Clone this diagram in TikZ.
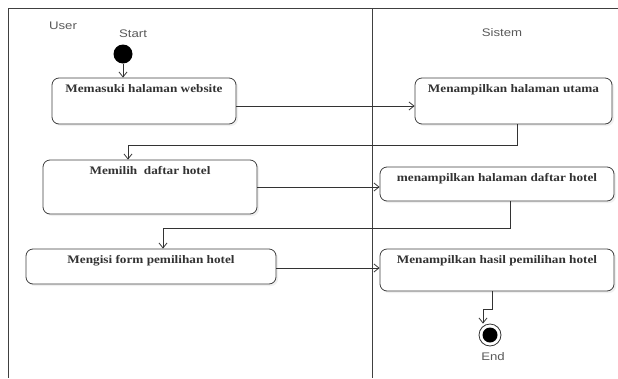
\documentclass[tikz,border=0pt]{standalone}
\usepackage{fontspec}
\setmainfont{Liberation Serif}[FakeStretch=1.15]
\newfontfamily\lanefont{Liberation Sans}[FakeStretch=1.2]
\usetikzlibrary{arrows.meta,shadows}

\begin{document}
\begin{tikzpicture}[x = 1pt, y = -1pt, line width = 0.8pt,
                      act/.style = {draw = black!75, rounded corners = 7pt, fill = white, inner sep = 0pt,
                                    drop shadow = {opacity = 0.12, shadow xshift = 2pt, shadow yshift = -2pt}},
                      txt/.style = {anchor = north, yshift = -3pt, font = \bfseries\fontsize{11.5}{13}\selectfont, text = black!80},
                      lane/.style = {font = \lanefont\fontsize{11}{13}\selectfont, text = black!65},
                      flow/.style = {draw = black!80, -{Straight Barb[length = 5pt, width = 8pt]}},
                      startdot/.style = {circle, fill = black, minimum size = 19pt, inner sep = 0pt},
                      enddot/.style = {circle, draw = black!80, fill = white, minimum size = 22pt, inner sep = 0pt,
                                       path picture = {\fill [black] (path picture bounding box.center) circle (7.5pt);}}]
    \useasboundingbox (0, 0) rectangle (618, 378);
    \draw [black!75] (618, 8) -- (8, 8) -- (8, 378);
    \draw [black!75] (372, 8) -- (372, 378);

    \node [lane] (u) at (63, 26) {User};
    \node [lane] (s) at (502, 33) {Sistem};
    \node [lane] (st) at (133, 34) {Start};
    \node [lane] (en) at (493, 357) {End};

    \node [startdot] (a1) at (123, 54){};
    \node [act, minimum width = 184, minimum height = 46, label = {[txt]north:Memasuki halaman website}] (a2) at (144, 101){};
    \node [act, minimum width = 197, minimum height = 46, label = {[txt]north:Menampilkan halaman utama}] (a3) at (513.5, 101){};
    \node [act, minimum width = 214, minimum height = 54, label = {[txt]north:Memilih\ \ daftar hotel}] (a4) at (150, 187){};
    \node [act, minimum width = 234, minimum height = 34, label = {[txt]north:menampilkan halaman daftar hotel}] (a5) at (497, 184){};
    \node [act, minimum width = 250, minimum height = 35, label = {[txt]north:Mengisi form pemilihan hotel}] (a6) at (151, 266.5){};
    \node [act, minimum width = 234, minimum height = 42, label = {[txt]north:Menampilkan hasil pemilihan hotel}] (a7) at (497, 270){};
    \node [enddot] (a8) at (490, 335){};

    \draw [flow] (a1) -- (a1 |- a2.north);
    \draw [flow] ([yshift = -5pt]a2.east) -- ([yshift = -5pt]a2.east -| a3.west);
    \draw [flow] ([xshift = 3.5pt]a3.south) -- ++(0, 21) -| ([xshift = -22pt]a4.north);
    \draw [flow] (a4.east) -- (a4.east -| a5.west);
    \draw [flow] ([xshift = 13pt]a5.south) -- ++(0, 27) -| ([xshift = 12pt]a6.north);
    \draw [flow] ([yshift = -1.5pt]a6.east) -- ([yshift = -1.5pt]a6.east -| a7.west);
    \draw [flow] ([xshift = -5pt]a7.south) -- ++(0, 18) -| ([xshift = -7pt]a8.north);
    \end{tikzpicture}
\end{document}
